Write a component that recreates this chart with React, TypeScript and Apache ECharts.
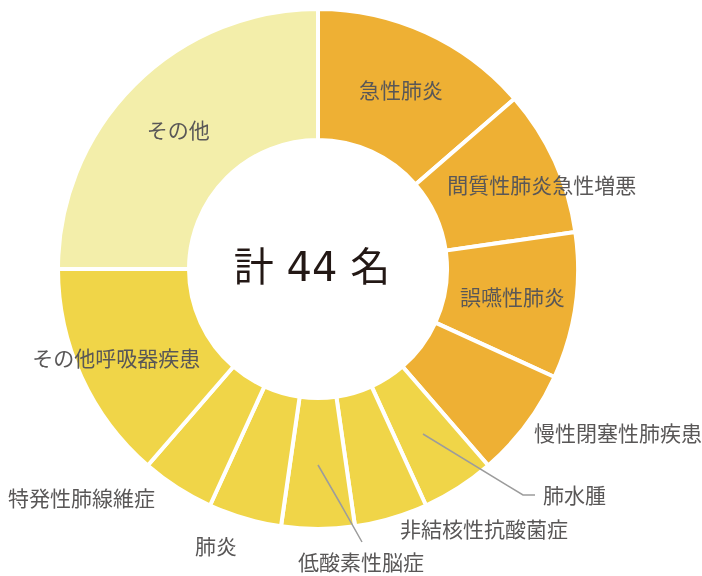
import React, { useEffect, useRef } from "react";
import * as echarts from "echarts";

const categories = [
  "急性肺炎",
  "間質性肺炎急性増悪",
  "誤嚥性肺炎",
  "慢性閉塞性肺疾患",
  "肺水腫",
  "非結核性抗酸菌症",
  "低酸素性脳症",
  "肺炎",
  "特発性肺線維症",
  "その他呼吸器疾患",
  "その他",
];
const counts = [6, 4, 4, 3, 2, 2, 2, 2, 2, 6, 11];
const groups = ["a", "a", "a", "a", "b", "b", "b", "b", "b", "b", "c"];
const totalLabel = "計 44 名";

const groupColors: Record<string, string> = {
  a: "#EEB034",
  b: "#F0D548",
  c: "#F3EEAA",
};

// label placement (inside offsets or absolute outside positions)
const labelPlacement: any[] = [
  { dx: 1, dy: 0 },
  { dx: 44, dy: -3 },
  { dx: -1, dy: -1 },
  { x: 534, y: 432 },
  { x: 543, y: 494, line: [[423, 434], [523, 495], [535, 495]] },
  { x: 400, y: 528 },
  { x: 298, y: 561, line: [[318, 465], [340, 503], [362, 542]] },
  { x: 195, y: 545 },
  { x: 8, y: 497 },
  { dx: -22, dy: 6 },
  { dx: 0, dy: 0 },
];

export default function App() {
  const ref = useRef<HTMLDivElement>(null);
  useEffect(() => {
    if (!ref.current) return;
    const chart = echarts.init(ref.current, undefined, { renderer: "svg" });
    const pieData = categories.map((name, i) => ({
      name,
      value: counts[i],
      itemStyle: { color: groupColors[groups[i]] },
    }));
    const labelData = categories.map((name, i) => {
      const p = labelPlacement[i];
      const outside = p.x !== undefined;
      return {
        name,
        value: counts[i],
        label: { position: outside ? "outside" : "inside" },
        labelLine: { show: !!p.line },
      };
    });
    const common = {
      type: "pie",
      center: [318, 269],
      radius: [129, 260],
      startAngle: 90,
      clockwise: true,
      avoidLabelOverlap: false,
      emphasis: { disabled: true },
    };
    chart.setOption({
      animation: false,
      graphic: [
        {
          type: "text",
          x: 312,
          y: 267,
          style: {
            text: totalLabel,
            fontSize: 40,
            fontFamily: "DejaVu Sans, Noto Sans CJK JP",
            fill: "#231815",
            textAlign: "center",
            textVerticalAlign: "middle",
          },
          z: 10,
        },
      ],
      series: [
        {
          ...common,
          z: 2,
          itemStyle: { borderColor: "#ffffff", borderWidth: 4 },
          label: { show: false },
          labelLine: { show: false },
          data: pieData,
        },
        {
          ...common,
          z: 5,
          silent: true,
          itemStyle: { color: "rgba(0,0,0,0)", borderWidth: 0 },
          label: {
            show: true,
            formatter: "{b}",
            fontSize: 21,
            fontFamily: "Noto Sans CJK JP",
            color: "#595757",
          },
          labelLine: {
            lineStyle: { color: "#9c9c9c", width: 1.5 },
          },
          labelLayout: (params: any) => {
            const p = labelPlacement[params.dataIndex];
            if (p.x !== undefined) {
              const r: any = {
                x: p.x,
                y: p.y,
                align: "left",
                verticalAlign: "middle",
              };
              if (p.line) r.labelLinePoints = p.line;
              return r;
            }
            return { dx: p.dx, dy: p.dy };
          },
          data: labelData,
        },
      ],
    });
    return () => chart.dispose();
  }, []);
  return (
    <div
      ref={ref}
      style={{ position: "fixed", left: 0, top: 0, width: 702, height: 576 }}
    />
  );
}
